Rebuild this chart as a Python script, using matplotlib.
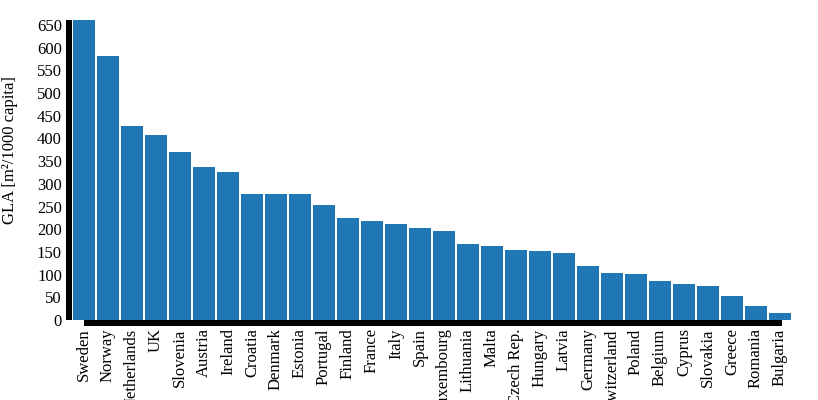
import matplotlib
matplotlib.use('Agg')
import matplotlib.pyplot as plt

countries = ['Sweden', 'Norway', 'Netherlands', 'UK', 'Slovenia', 'Austria',
             'Ireland', 'Croatia', 'Denmark', 'Estonia', 'Portugal', 'Finland',
             'France', 'Italy', 'Spain', 'Luxembourg', 'Lithuania', 'Malta',
             'Czech Rep.', 'Hungary', 'Latvia', 'Germany', 'Switzerland',
             'Poland', 'Belgium', 'Cyprus', 'Slovakia', 'Greece', 'Romania',
             'Bulgaria']
gla = [661, 582, 427, 408, 370, 338, 326, 278, 278, 278, 253, 225, 218, 211,
       203, 196, 167, 163, 154, 152, 148, 119, 104, 101, 86, 79, 75, 53, 31, 16]
yticks = list(range(0, 651, 50))

plt.rcParams['font.family'] = ['Liberation Serif', 'DejaVu Serif']

W, H = 818, 400
fig = plt.figure(figsize=(W / 100, H / 100), dpi=100)
ax = fig.add_axes([73 / W, 1 - 320 / H, 720 / W, 300 / H])

n = len(countries)
ymax = max(gla)
ax.bar(range(n), gla, width=22 / 24, align='edge', color='#1f77b4')
ax.set_xlim(0, n)
ax.set_ylim(0, ymax)

for s in ax.spines.values():
    s.set_visible(False)

# thick axis lines like the d3 original
px = ymax / 300.0
ax.vlines(-4 / 24, 0, ymax, color='black', lw=4.32, clip_on=False,
          capstyle='butt')
ax.hlines(-3 * px, 11 / 24, n - 11 / 24, color='black', lw=4.32,
          clip_on=False, capstyle='butt')

ax.set_yticks(yticks)
ax.set_yticklabels([str(v) for v in yticks], fontsize=12)
ax.set_xticks([i + 11 / 24 for i in range(n)])
ax.set_xticklabels(countries, rotation=90, fontsize=12, va='top', ha='center')
ax.tick_params(axis='y', length=0, pad=8)
ax.tick_params(axis='x', length=0, pad=6)

fig.text(10 / W, 1 - 150 / H, 'GLA [m²/1000 capita]', rotation=90,
         ha='center', va='center', fontsize=12)

fig.savefig('out.png', dpi=100)
